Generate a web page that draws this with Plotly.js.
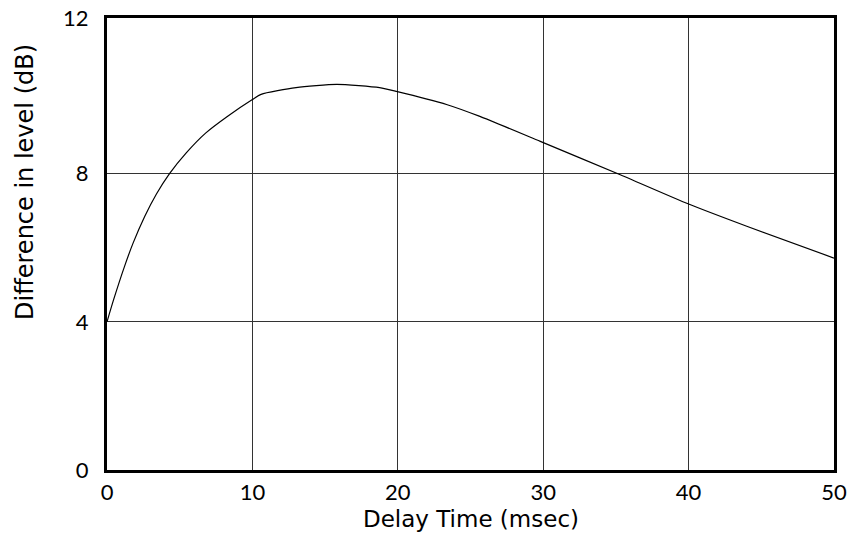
<!DOCTYPE html>
<html>
<head>
<meta charset="utf-8">
<script src="https://cdn.plot.ly/plotly-3.0.1.min.js"></script>
<style>html,body{margin:0;padding:0;background:#fff}#chart{width:860px;height:535px}</style>
</head>
<body>
<div id="chart"></div>
<script>
const delayTime = [0, 0.45, 1.2, 1.8, 2.6, 3.4, 4.3, 5.45, 6.8, 8.3, 10.0, 10.6, 13.0, 15.8, 18.75, 19.9, 23.4, 25.6, 29.8, 35.3, 40.0, 44.0, 50.0];
const levelDiff = [4.0, 4.59, 5.49, 6.13, 6.85, 7.45, 8.0, 8.56, 9.1, 9.55, 10.0, 10.14, 10.32, 10.41, 10.32, 10.22, 9.86, 9.55, 8.87, 7.97, 7.18, 6.58, 5.72];
const xTicks = [0, 10, 20, 30, 40, 50];
const yTickVals = [0, 4, 8, 12.2];
const yTickText = ['0', '4', '8', '12'];

const tickFont = {family: 'Lato, "DejaVu Sans", sans-serif', size: 22, color: '#000'};
const titleFont = {family: '"DejaVu Sans", sans-serif', size: 23, color: '#000'};

Plotly.newPlot('chart', [{
  x: delayTime, y: levelDiff, type: 'scatter', mode: 'lines',
  line: {color: '#000', width: 1.2, shape: 'spline', smoothing: 0.6},
  hoverinfo: 'skip'
}], {
  width: 860, height: 535,
  margin: {l: 107, r: 26, t: 18, b: 65},
  paper_bgcolor: '#fff', plot_bgcolor: '#fff',
  showlegend: false,
  font: tickFont,
  xaxis: {
    range: [0, 50], tickvals: xTicks, ticks: '', showgrid: true, gridcolor: '#333', gridwidth: 1,
    showline: true, linecolor: '#000', linewidth: 3, mirror: true, zeroline: false,
    tickfont: tickFont, ticklabelstandoff: 1
  },
  yaxis: {
    range: [0, 12.2], tickvals: yTickVals, ticktext: yTickText, ticks: '', showgrid: true, gridcolor: '#333', gridwidth: 1,
    showline: true, linecolor: '#000', linewidth: 3, mirror: true, zeroline: false,
    tickfont: tickFont, ticklabelstandoff: 11
  },
  annotations: [
    {text: 'Difference in level (dB)', xref: 'paper', yref: 'paper', x: -0.113, y: 0.637,
     xanchor: 'center', yanchor: 'middle', textangle: -90, showarrow: false, font: {family: titleFont.family, size: 24, color: '#000'}},
    {text: 'Delay Time (msec)', xref: 'paper', yref: 'paper', x: 0.5, y: -0.109,
     xanchor: 'center', yanchor: 'middle', showarrow: false, font: titleFont}
  ]
}, {displayModeBar: false, staticPlot: true});
</script>
</body>
</html>
